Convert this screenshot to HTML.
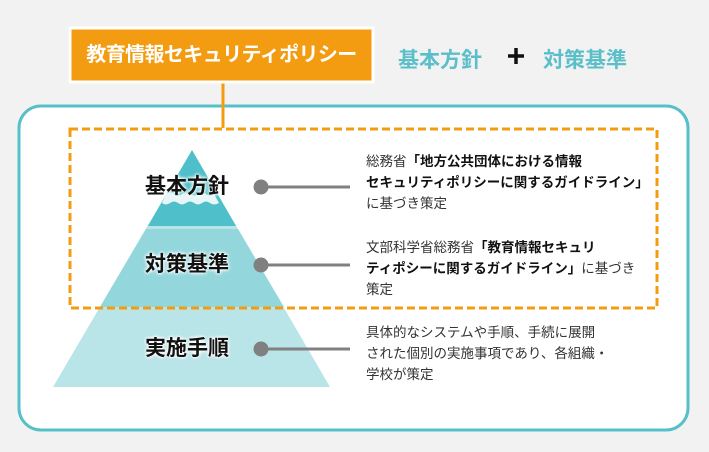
<!DOCTYPE html>
<html><head><meta charset="utf-8"><style>
body{margin:0;width:709px;height:452px;background:#f2f2f2;position:relative;overflow:hidden;font-family:"Liberation Sans","Noto Sans CJK JP",sans-serif;}
.a{position:absolute;white-space:nowrap}
.t{font-size:13.5px;color:#333;line-height:21px}
.t b{color:#111}
.lbl{font-size:21px;font-weight:bold;color:#111;line-height:26px;text-shadow:0 0 3px #fff,0 0 3px #fff,0 0 4px #fff}
</style></head><body>
<svg class="a" style="left:0;top:0" width="709" height="452">
<rect x="19" y="106" width="669" height="324" rx="22" fill="#fff" stroke="#55c0c9" stroke-width="3"/>
<polygon points="192,150 330,387 53,387" fill="#b9e4e8"/>
<polygon points="146,229 238,229 284,307 100,307" fill="#93d7dd"/>
<polygon points="192,150 236,226 148,226" fill="#4fbfca"/>
<path d="M166,194 q4,-3 8,0 q4,3 8,0 q4,-3 8,0 q4,3 8,0 q4,-3 8,0 q4,3 8,0 l5,9 q-5,3 -9,0 q-4,-3 -8,0 q-4,3 -8,0 q-4,-3 -8,0 q-4,3 -8,0 q-4,-3 -8,0 q-4,3 -8,0z" fill="#e8f6f7"/>
<rect x="70" y="129" width="587" height="179" fill="none" stroke="#f39c12" stroke-width="3" stroke-dasharray="8,4"/>
<line x1="223" y1="82" x2="223" y2="128" stroke="#f39c12" stroke-width="3"/>
<rect x="70" y="28" width="303" height="54" fill="#f39c12" stroke="#fff" stroke-width="3"/>
<g fill="#808080" stroke="#808080" stroke-width="3">
<circle cx="261" cy="187" r="6"/><line x1="261" y1="187" x2="350" y2="187"/>
<circle cx="261" cy="265" r="6"/><line x1="261" y1="265" x2="350" y2="265"/>
<circle cx="261" cy="349" r="6"/><line x1="261" y1="349" x2="350" y2="349"/>
</g>
<g stroke="#111" stroke-width="3.5"><line x1="508" y1="56" x2="524" y2="56"/><line x1="516" y1="48" x2="516" y2="64"/></g>
</svg>
<div class="a" style="left:70px;top:28px;width:303px;line-height:54px;text-align:center;color:#fff;font-weight:bold;font-size:20px;letter-spacing:-0.6px">教育情報セキュリティポリシー</div>
<div class="a" style="left:398px;top:44px;font-size:21px;font-weight:bold;color:#5bbfc9">基本方針</div>
<div class="a" style="left:543px;top:44px;font-size:21px;font-weight:bold;color:#5bbfc9">対策基準</div>
<div class="a lbl" style="left:145px;top:174px">基本方針</div>
<div class="a lbl" style="left:145px;top:252px">対策基準</div>
<div class="a lbl" style="left:145px;top:336px">実施手順</div>
<div class="a t" style="left:366px;top:151px">総務省<b>「地方公共団体における情報</b><br><b>セキュリティポリシーに関するガイドライン」</b><br>に基づき策定</div>
<div class="a t" style="left:366px;top:237px">文部科学省総務省<b>「教育情報セキュリ</b><br><b>ティポシーに関するガイドライン」</b>に基づき<br>策定</div>
<div class="a t" style="left:366px;top:322px">具体的なシステムや手順、手続に展開<br>された個別の実施事項であり、各組織・<br>学校が策定</div>
</body></html>
